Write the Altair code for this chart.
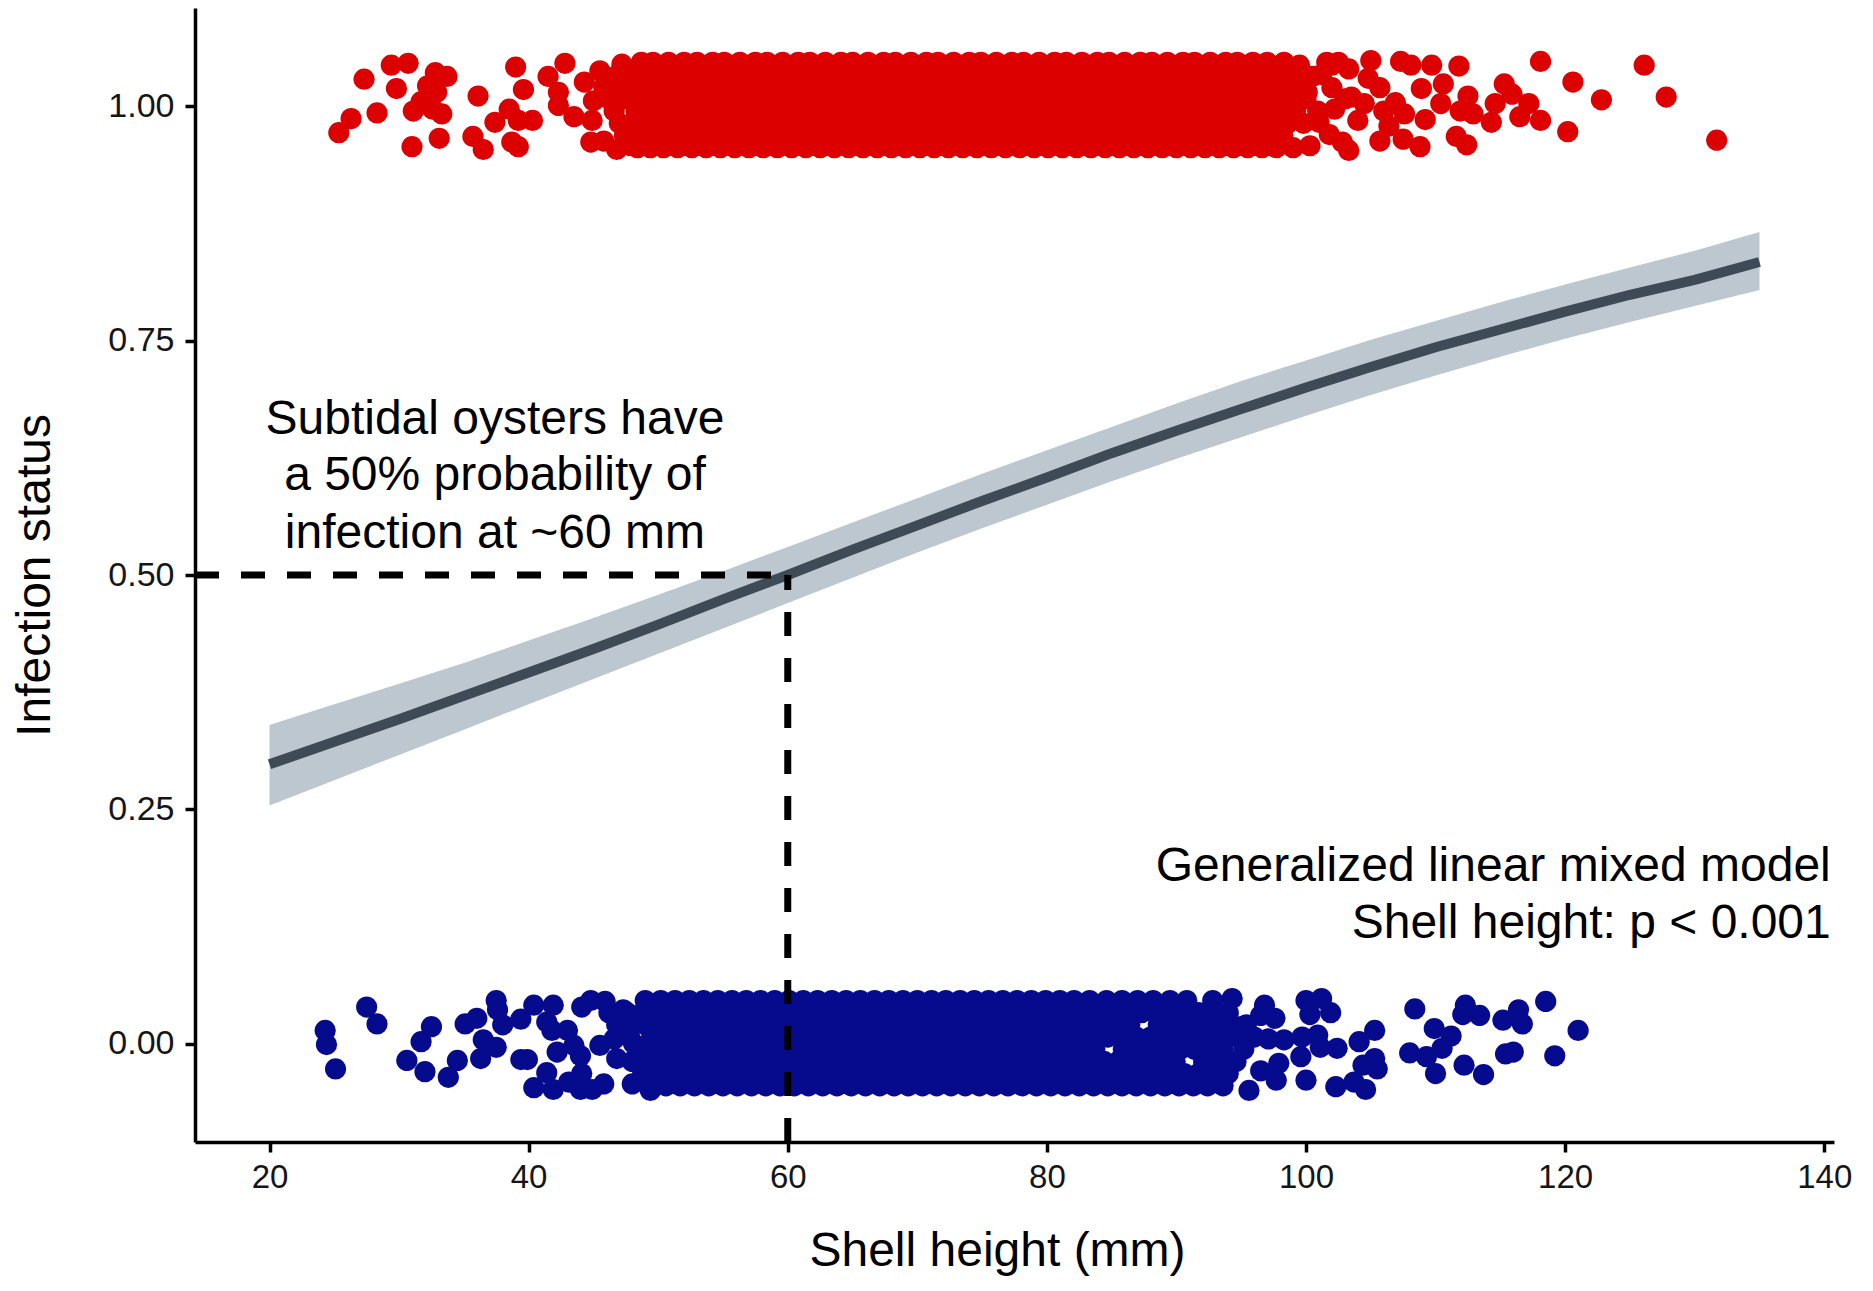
import altair as alt
import pandas as pd

FONT = "Liberation Sans"
RED = "#DD0000"
BLUE = "#060B8E"
BAND_COLOR = "#BDC7D0"
LINE_COLOR = "#3E4A56"
POINT_SIZE = 450

X_DOMAIN = [14.25, 140.75]
Y_DOMAIN = [-0.105, 1.105]
X_TICKS = [20, 40, 60, 80, 100, 120, 140]
Y_TICKS = [0.0, 0.25, 0.5, 0.75, 1.0]
X_TITLE = "Shell height (mm)"
Y_TITLE = "Infection status"

# ---------------- infected oysters (status = 1, jittered) ----------------
RED_SPARSE_X = [25.35, 26.3, 27.3, 28.3, 29.4, 30.7, 29.8, 31.1, 31.7, 32.2, 32.8, 33.7, 32.6, 33.3,
                32.9, 31.0, 33.1, 36.1, 35.7, 36.5, 37.4, 38.5, 39.0, 39.6, 39.2, 40.3, 38.7, 39.2,
                41.5, 42.8, 42.3, 42.3, 43.5, 44.3, 45.5, 47.2, 45.0, 44.9, 44.8, 45.8, 46.8, 47.9, 46.3,
                109.7, 111.8, 118.1, 120.6, 122.8, 126.1, 127.8, 131.7, 120.2, 118.1, 116.5, 117.2,
                115.3, 115.9, 114.6, 114.3, 112.9, 112.5, 111.9, 111.6, 112.4, 110.6, 110.4, 109.2,
                108.8, 107.5, 107.6, 108.9, 108.1, 107.3, 105.0, 103.3, 105.7, 103.3, 105.7, 106.4,
                104.5, 106.9, 101.6, 102.2, 101.0, 102.8, 100.1, 99.5, 100.5, 102.0, 103.5, 101.8,
                104.0, 100.3, 102.0, 104.8, 106.0]
RED_SPARSE_Y = [0.972, 0.987, 1.029, 0.993, 1.044, 1.046, 1.019, 0.995, 1.005, 1.022, 1.036, 1.032, 0.997, 0.992,
                1.015, 0.957, 0.966, 1.011, 0.968, 0.954, 0.983, 0.997, 1.042, 1.018, 0.985, 0.985, 0.962, 0.957,
                1.032, 1.046, 1.015, 1.001, 0.989, 1.026, 1.038, 1.045, 1.006, 0.985, 0.962, 0.963, 0.954, 0.958, 1.022,
                1.044, 1.043, 1.048, 1.026, 1.007, 1.044, 1.010, 0.964, 0.973, 0.985, 0.989, 1.003,
                1.024, 1.013, 1.003, 0.983, 0.992, 1.011, 0.995, 0.968, 0.959, 1.024, 1.003, 0.986,
                0.957, 0.965, 0.992, 1.019, 1.044, 1.048, 1.049, 1.040, 1.020, 0.953, 0.963, 0.979,
                1.003, 1.004, 1.047, 0.997, 0.983, 0.962, 1.015, 1.044, 1.032, 1.020, 1.010, 0.970,
                0.985, 0.958, 1.044, 1.030, 0.995]

RED_ROWS_Y = [1.047, 1.034, 1.021, 1.008, 0.995, 0.982, 0.969, 0.956]
RED_ROWS_X = [
    [48.7, 49.6, 50.8, 52.0, 53.0, 54.2, 55.1, 56.3, 57.5, 58.4, 59.6, 60.8, 61.7, 62.9, 64.1, 65.0,
     66.2, 67.4, 68.3, 69.5, 70.7, 71.6, 72.8, 74.0, 74.9, 76.1, 77.3, 78.2, 79.4, 80.6, 81.5, 82.7,
     83.9, 84.8, 86.0, 87.2, 88.1, 89.3, 90.5, 91.4, 92.6, 93.8, 94.7, 95.9, 97.0, 98.3, 102.5],
    [46.9, 48.0, 49.2, 50.3, 51.4, 52.5, 53.6, 54.7, 55.8, 56.9, 58.0, 59.1, 60.2, 61.3, 62.4, 63.5,
     64.6, 65.7, 66.8, 67.9, 69.0, 70.1, 71.2, 72.3, 73.4, 74.5, 75.6, 76.7, 77.8, 78.9, 80.0, 81.1,
     82.2, 83.3, 84.4, 85.5, 86.6, 87.7, 88.8, 89.9, 91.0, 92.1, 93.2, 94.3, 95.4, 96.5, 97.6, 98.9, 101.2],
    [45.8, 47.3, 48.6, 49.7, 50.8, 51.9, 53.0, 54.1, 55.2, 56.3, 57.4, 58.5, 59.6, 60.7, 61.8, 62.9,
     64.0, 65.1, 66.2, 67.3, 68.4, 69.5, 70.6, 71.7, 72.8, 73.9, 75.0, 76.1, 77.2, 78.3, 79.4, 80.5,
     81.6, 82.7, 83.8, 84.9, 86.0, 87.1, 88.2, 89.3, 90.4, 91.5, 92.6, 93.7, 94.8, 95.9, 97.0, 98.1, 99.6],
    [46.2, 47.6, 48.9, 50.1, 51.2, 52.3, 53.4, 54.5, 55.6, 56.7, 57.8, 58.9, 60.0, 61.1, 62.2, 63.3,
     64.4, 65.5, 66.6, 67.7, 68.8, 69.9, 71.0, 72.1, 73.2, 74.3, 75.4, 76.5, 77.6, 78.7, 79.8, 80.9,
     82.0, 83.1, 84.2, 85.3, 86.4, 87.5, 88.6, 89.7, 90.8, 91.9, 93.0, 94.1, 95.2, 96.3, 97.4, 98.6, 100.0, 103.0],
    [46.6, 48.3, 49.5, 50.6, 51.7, 52.8, 53.9, 55.0, 56.1, 57.2, 58.3, 59.4, 60.5, 61.6, 62.7, 63.8,
     64.9, 66.0, 67.1, 68.2, 69.3, 70.4, 71.5, 72.6, 73.7, 74.8, 75.9, 77.0, 78.1, 79.2, 80.3, 81.4,
     82.5, 83.6, 84.7, 85.8, 86.9, 88.0, 89.1, 90.2, 91.3, 92.4, 93.5, 94.6, 95.7, 96.8, 97.9, 99.2, 100.9],
    [47.0, 48.0, 49.1, 50.2, 51.3, 52.4, 53.5, 54.6, 55.7, 56.8, 57.9, 59.0, 60.1, 61.2, 62.3, 63.4,
     64.5, 65.6, 66.7, 67.8, 68.9, 70.0, 71.1, 72.2, 73.3, 74.4, 75.5, 76.6, 77.7, 78.8, 79.9, 81.0,
     82.1, 83.2, 84.3, 85.4, 86.5, 87.6, 88.7, 89.8, 90.9, 92.0, 93.1, 94.2, 95.3, 96.4, 97.5, 98.6, 99.8],
    [47.4, 48.6, 49.7, 50.8, 51.9, 53.0, 54.1, 55.2, 56.3, 57.4, 58.5, 59.6, 60.7, 61.8, 62.9, 64.0,
     65.1, 66.2, 67.3, 68.4, 69.5, 70.6, 71.7, 72.8, 73.9, 75.0, 76.1, 77.2, 78.3, 79.4, 80.5, 81.6,
     82.7, 83.8, 84.9, 86.0, 87.1, 88.2, 89.3, 90.4, 91.5, 92.6, 93.7, 94.8, 95.9, 97.0, 98.2],
    [48.4, 49.4, 50.4, 51.5, 52.6, 53.7, 54.8, 55.9, 57.0, 58.1, 59.2, 60.3, 61.4, 62.5, 63.6, 64.7,
     65.8, 66.9, 68.0, 69.1, 70.2, 71.3, 72.4, 73.5, 74.6, 75.7, 76.8, 77.9, 79.0, 80.1, 81.2, 82.3,
     83.4, 84.5, 85.6, 86.7, 87.8, 88.9, 90.0, 91.1, 92.2, 93.3, 94.4, 95.5, 96.6, 97.7, 99.0],
]

# ---------------- uninfected oysters (status = 0, jittered) ----------------
BLUE_SPARSE_X = [24.3, 24.4, 25.1, 27.5, 28.3, 30.6, 31.7, 32.5, 32.0, 33.8, 34.5, 36.3, 35.1, 36.0,
                 36.5, 37.5, 37.5, 37.6, 38.0, 39.4, 39.4, 39.9, 40.4, 41.9, 41.4, 41.8, 42.2, 41.4,
                 40.4, 41.9, 43.1, 44.1, 44.0, 44.9, 43.0, 43.5, 44.0, 44.1, 44.8, 45.9, 45.5, 45.8,
                 46.6, 46.8, 47.3, 48.1, 48.0, 49.1, 49.4,
                 94.3, 96.8, 96.5, 97.6, 100.0, 101.2, 100.3, 101.9, 98.3, 99.7, 100.9, 102.4, 101.1,
                 99.6, 97.9, 100.0, 102.3, 103.7, 104.6, 105.3, 104.1, 105.3, 104.4, 105.5, 108.4,
                 109.9, 111.2, 110.5, 108.0, 109.3, 110.0, 112.2, 113.7, 112.3, 113.4, 112.1, 115.2,
                 116.4, 116.7, 118.5, 115.4, 116.0, 119.2, 121.0, 95.0, 97.1, 96.5, 97.7, 95.6]
BLUE_SPARSE_Y = [0.014, -0.001, -0.027, 0.039, 0.021, -0.018, 0.002, 0.018, -0.030, -0.036, -0.018, -0.016, 0.021, 0.027,
                 0.004, -0.004, 0.046, 0.036, 0.020, 0.026, -0.017, -0.017, 0.041, 0.041, 0.023, 0.014, -0.009, -0.031,
                 -0.047, -0.049, -0.041, -0.032, -0.049, -0.049, 0.014, -0.002, -0.013, 0.039, 0.046, 0.045, -0.002, -0.043,
                 0.005, -0.016, 0.036, 0.000, -0.043, 0.043, -0.050,
                 0.048, 0.041, 0.030, 0.027, 0.046, 0.048, 0.031, 0.033, 0.004, 0.007, 0.009, -0.005, -0.004,
                 -0.014, -0.021, -0.039, -0.046, -0.041, -0.049, 0.014, 0.002, -0.016, -0.023, -0.027, 0.037,
                 0.016, 0.008, -0.005, -0.010, -0.014, -0.032, -0.023, -0.033, 0.041, 0.030, 0.031, 0.025,
                 0.036, 0.021, 0.045, -0.011, -0.009, -0.013, 0.014, 0.018, 0.005, -0.029, -0.039, -0.050]

BLUE_ROWS_Y = [0.046, 0.033, 0.020, 0.007, -0.006, -0.019, -0.032, -0.045]
BLUE_ROWS_X = [
    [49.0, 50.2, 51.3, 52.4, 53.5, 54.6, 55.7, 56.8, 57.9, 59.0, 60.1, 61.2, 62.3, 63.4, 64.5, 65.6,
     66.7, 67.8, 68.9, 70.0, 71.1, 72.2, 73.3, 74.4, 75.5, 76.6, 77.7, 78.8, 79.9, 81.0, 82.1, 83.3,
     84.6, 85.8, 87.0, 88.2, 89.5, 90.8, 92.8],
    [46.2, 47.6, 48.8, 49.9, 51.0, 52.1, 53.2, 54.3, 55.4, 56.5, 57.6, 58.7, 59.8, 60.9, 62.0, 63.1,
     64.2, 65.3, 66.4, 67.5, 68.6, 69.7, 70.8, 71.9, 73.0, 74.1, 75.2, 76.3, 77.4, 78.5, 79.6, 80.7,
     81.8, 82.9, 84.0, 85.1, 86.2, 87.3, 88.4, 89.5, 90.6, 91.7, 92.8, 94.0],
    [46.8, 47.9, 49.0, 50.1, 51.2, 52.3, 53.4, 54.5, 55.6, 56.7, 57.8, 58.9, 60.0, 61.1, 62.2, 63.3,
     64.4, 65.5, 66.6, 67.7, 68.8, 69.9, 71.0, 72.1, 73.2, 74.3, 75.4, 76.5, 77.6, 78.7, 79.8, 80.9,
     82.0, 83.1, 84.2, 85.3, 86.4, 88.6, 89.7, 90.8, 91.9, 93.0, 94.2, 95.4],
    [47.8, 49.5, 50.6, 51.7, 52.8, 53.9, 55.0, 56.1, 57.2, 58.3, 59.4, 60.5, 61.6, 62.7, 63.8, 64.9,
     66.0, 67.1, 68.2, 69.3, 70.4, 71.5, 72.6, 73.7, 74.8, 75.9, 77.0, 78.1, 79.2, 80.3, 81.4, 82.5,
     83.6, 84.7, 85.8, 86.9, 88.0, 89.1, 90.2, 91.3, 92.4, 93.5, 94.7, 96.0],
    [48.5, 49.6, 50.7, 51.8, 52.9, 54.0, 55.1, 56.2, 57.3, 58.4, 59.5, 60.6, 61.7, 62.8, 63.9, 65.0,
     66.1, 67.2, 68.3, 69.4, 70.5, 71.6, 72.7, 73.8, 74.9, 76.0, 77.1, 78.2, 79.3, 80.4, 81.5, 82.6,
     83.7, 85.9, 87.0, 88.1, 89.2, 90.3, 91.4, 92.5, 93.6, 95.2],
    [48.0, 49.2, 50.3, 51.4, 52.5, 53.6, 54.7, 55.8, 56.9, 58.0, 59.1, 60.2, 61.3, 62.4, 63.5, 64.6,
     65.7, 66.8, 67.9, 69.0, 70.1, 71.2, 72.3, 73.4, 74.5, 75.6, 76.7, 77.8, 78.9, 80.0, 81.1, 82.2,
     83.3, 84.4, 85.5, 86.6, 87.7, 88.8, 89.9, 92.1, 93.2, 94.6],
    [48.8, 49.9, 51.0, 52.1, 53.2, 54.3, 55.4, 56.5, 57.6, 58.7, 59.8, 60.9, 62.0, 63.1, 64.2, 65.3,
     66.4, 67.5, 68.6, 69.7, 70.8, 71.9, 73.0, 74.1, 75.2, 76.3, 77.4, 78.5, 79.6, 80.7, 81.8, 82.9,
     84.0, 85.1, 86.2, 87.3, 88.4, 89.5, 90.6, 91.7, 92.8, 94.0],
    [49.6, 50.6, 51.7, 52.8, 53.9, 55.0, 56.1, 57.2, 58.3, 59.4, 60.5, 61.6, 62.7, 63.8, 64.9, 66.0,
     67.1, 68.2, 69.3, 70.4, 71.5, 72.6, 73.7, 74.8, 75.9, 77.0, 78.1, 79.2, 80.3, 81.4, 82.5, 83.6,
     84.7, 85.8, 86.9, 88.0, 89.1, 90.2, 91.3, 92.4, 93.6],
]

# ---------------- fitted GLMM curve with confidence band ----------------
CURVE_X = [20, 25, 30, 35, 40, 45, 50, 55, 60, 65, 70, 75, 80, 85, 90, 95, 100, 105, 110, 115, 120, 125, 130, 135]
CURVE_FIT = [0.298, 0.322, 0.346, 0.371, 0.396, 0.421, 0.447, 0.474, 0.500, 0.527, 0.553, 0.579,
             0.604, 0.630, 0.654, 0.677, 0.700, 0.722, 0.743, 0.762, 0.781, 0.799, 0.815, 0.834]
CURVE_LO = [0.254, 0.281, 0.308, 0.335, 0.362, 0.389, 0.416, 0.443, 0.470, 0.497, 0.524, 0.550,
            0.575, 0.600, 0.624, 0.647, 0.670, 0.692, 0.713, 0.733, 0.752, 0.770, 0.787, 0.804]
CURVE_HI = [0.340, 0.362, 0.384, 0.406, 0.430, 0.454, 0.479, 0.504, 0.530, 0.556, 0.582, 0.608,
            0.633, 0.658, 0.683, 0.707, 0.729, 0.751, 0.771, 0.791, 0.810, 0.828, 0.846, 0.866]

# ---------------- 50% reference lines ----------------
P50_X = 60
P50_Y = 0.5

# ---------------- annotations ----------------
NOTE1_LINES = ["Subtidal oysters have", "a 50% probability of", "infection at ~60 mm"]
NOTE1_X = [37.4, 37.4, 37.4]
NOTE1_Y = [0.6506, 0.5908, 0.5288]
NOTE2_LINES = ["Generalized linear mixed model", "Shell height: p < 0.001"]
NOTE2_X = [140.5, 140.5]
NOTE2_Y = [0.1731, 0.1132]


def expand_rows(rows_x, rows_y):
    xs, ys = [], []
    for rx, ry in zip(rows_x, rows_y):
        xs.extend(rx)
        ys.extend([ry] * len(rx))
    return xs, ys


rx, ry = expand_rows(RED_ROWS_X, RED_ROWS_Y)
red_df = pd.DataFrame({"x": RED_SPARSE_X + rx, "y": RED_SPARSE_Y + ry})
bx, by = expand_rows(BLUE_ROWS_X, BLUE_ROWS_Y)
blue_df = pd.DataFrame({"x": BLUE_SPARSE_X + bx, "y": BLUE_SPARSE_Y + by})
curve_df = pd.DataFrame({"x": CURVE_X, "y": CURVE_FIT, "lo": CURVE_LO, "hi": CURVE_HI})
hrule_df = pd.DataFrame({"x": [X_DOMAIN[0]], "x2": [P50_X], "y": [P50_Y]})
vrule_df = pd.DataFrame({"x": [P50_X], "y": [Y_DOMAIN[0]], "y2": [P50_Y]})
note1_df = pd.DataFrame({"x": NOTE1_X, "y": NOTE1_Y, "t": NOTE1_LINES})
note2_df = pd.DataFrame({"x": NOTE2_X, "y": NOTE2_Y, "t": NOTE2_LINES})

xs = alt.Scale(domain=X_DOMAIN, nice=False, zero=False)
ys = alt.Scale(domain=Y_DOMAIN, nice=False, zero=False)

common_axis = dict(
    domainColor="black", domainWidth=3.5, tickColor="black", tickWidth=3.5, tickSize=10,
    labelColor="#151515", labelFont=FONT, grid=False,
    titleFont=FONT, titleFontSize=48, titleFontWeight="normal", titleColor="black",
    titleBaseline="alphabetic",
)
x_axis = alt.Axis(values=X_TICKS, format="d", title=X_TITLE, labelFontSize=33, labelPadding=9,
                  titleX=802, titleY=123, titleAlign="center", **common_axis)
y_axis = alt.Axis(values=Y_TICKS, format=".2f", title=Y_TITLE, labelFontSize=34, labelPadding=11,
                  titleX=-146, titleY=567, titleAngle=270, titleAlign="center", **common_axis)

X = alt.X("x:Q", scale=xs, axis=x_axis)
Y = alt.Y("y:Q", scale=ys, axis=y_axis)

blue_pts = alt.Chart(blue_df).mark_circle(size=POINT_SIZE, opacity=1, color=BLUE).encode(x=X, y=Y)
red_pts = alt.Chart(red_df).mark_circle(size=POINT_SIZE, opacity=1, color=RED).encode(x=X, y=Y)

band = alt.Chart(curve_df).mark_area(color=BAND_COLOR, opacity=1).encode(
    x=X, y=alt.Y("lo:Q", scale=ys, axis=y_axis), y2="hi:Q")
line = alt.Chart(curve_df).mark_line(color=LINE_COLOR, strokeWidth=10, strokeCap="butt").encode(x=X, y=Y)

hrule = alt.Chart(hrule_df).mark_rule(color="black", strokeWidth=7, strokeDash=[24, 22]).encode(
    x=X, x2="x2:Q", y=Y)
vrule = alt.Chart(vrule_df).mark_rule(color="black", strokeWidth=7, strokeDash=[24, 22]).encode(
    x=X, y=Y, y2="y2:Q")

note1 = alt.Chart(note1_df).mark_text(align="center", baseline="alphabetic", font=FONT,
                                      fontSize=48, color="black").encode(x=X, y=Y, text="t:N")
note2 = alt.Chart(note2_df).mark_text(align="right", baseline="alphabetic", font=FONT,
                                      fontSize=48, color="black").encode(x=X, y=Y, text="t:N")

chart = alt.layer(blue_pts, red_pts, band, line, hrule, vrule, note1, note2).properties(
    width=1639, height=1134,
    autosize=alt.AutoSizeParams(type="none"),
    padding={"left": 187, "top": 0, "right": 30, "bottom": 134},
    background="white",
).configure_view(stroke=None)

chart.save("out.html", embed_options={"renderer": "svg", "actions": False})
